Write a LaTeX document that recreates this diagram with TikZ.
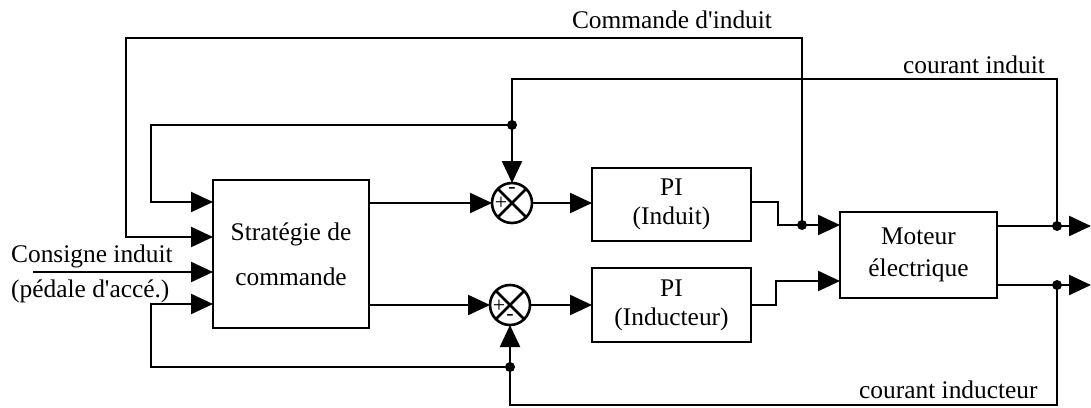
\documentclass[tikz,border=0pt]{standalone}
\usepackage{fontspec}
\setmainfont{Liberation Serif}
\usetikzlibrary{arrows.meta}
\newcommand\dfont{\fontsize{25.4}{29}\selectfont}
\begin{document}
\begin{tikzpicture}[x=1pt,y=-1pt,line width=2.3pt,
  blk/.style={draw,line width=2.4pt,inner sep=0pt,outer sep=0pt,align=center,font=\dfont},
  sumj/.style={draw,circle,line width=2.6pt,minimum size=40pt,inner sep=0pt,outer sep=0pt},
  arr/.style={-{Triangle[length=22pt,width=20pt]}},
  jdot/.style={circle,fill,inner sep=0pt,minimum size=10pt},
  lbl/.style={font=\dfont,inner sep=0pt},
  sgn/.style={font=\fontsize{22}{22}\selectfont,inner sep=0pt}]
\useasboundingbox (0,0) rectangle (1091,407);

% blocks
\node[blk,minimum width=156pt,minimum height=148pt] (strat) at (291,254) {Stratégie de\\[16pt]commande};
\node[blk,minimum width=159pt,minimum height=73pt] (pi1) at (671.5,204.5) {PI\\(Induit)};
\node[blk,minimum width=159pt,minimum height=74pt] (pi2) at (671.5,305) {PI\\(Inducteur)};
\node[blk,minimum width=157pt,minimum height=86pt] (mot) at (918.5,255) {Moteur\\[3pt]électrique};

% summing junctions
\node[sumj] (s1) at (512,203) {};
\node[sumj] (s2) at (510,305) {};
\draw[line width=2.6pt] (s1.north west) -- (s1.south east) (s1.north east) -- (s1.south west);
\draw[line width=2.6pt] (s2.north west) -- (s2.south east) (s2.north east) -- (s2.south west);
\node[sgn] (s1m) at (512,190) {-};
\node[sgn] (s1p) at (501,203) {+};
\node[sgn] (s2p) at (499,306) {+};
\node[sgn] (s2m) at (510,317) {-};

% coordinates
\coordinate (d1) at (802,225);
\coordinate (jn1) at (512,125);
\coordinate (jn2) at (510,367);
\coordinate (d3) at (1057,226);
\coordinate (d4) at (1057,285);
\coordinate (out1) at (1091,226);
\coordinate (out2) at (1091,285);
\coordinate (cin) at (33,272);
\coordinate (c1) at (126,38);
\coordinate (c2) at (151,202);
\coordinate (c3) at (151,304);
\coordinate (c4) at (512,79);
\coordinate (c5) at (510,405);
\coordinate (cc) at (126,237);
\coordinate (k1) at (778,202);
\coordinate (k2) at (776,305);
\coordinate (min2) at (776,281);

% commande d'induit loop
\draw[arr] (d1) |- (c1) -- (cc) -- (strat.west |- cc);
% courant induit
\draw (d3) |- (c4) -- (jn1);
\draw[arr] (jn1) -- (s1.north);
\draw[arr] (jn1) -| (c2) -- (strat.west |- c2);
% courant inducteur
\draw (d4) |- (c5) -- (jn2);
\draw[arr] (jn2) -- (s2.south);
\draw[arr] (jn2) -| (c3) -- (strat.west |- c3);
% consigne
\draw[arr] (cin) -- (strat.west |- cin);
% strategy outputs
\draw[arr] (strat.east |- s1) -- (s1.west);
\draw[arr] (strat.east |- s2) -- (s2.west);
\draw[arr] (s1.east) -- (pi1.west |- s1);
\draw[arr] (s2.east) -- (pi2.west |- s2);
% PI to motor
\draw[arr] (pi1.east |- k1) -- (k1) |- (mot.west |- d1);
\draw[arr] (pi2.east |- k2) -- (k2) -- (min2) -- (mot.west |- min2);
% motor outputs
\draw[arr] (mot.east |- d3) -- (out1);
\draw[arr] (mot.east |- d4) -- (out2);

% dots
\node[jdot] (dd1) at (d1) {};
\node[jdot] (dj1) at (jn1) {};
\node[jdot] (dj2) at (jn2) {};
\node[jdot] (dd3) at (d3) {};
\node[jdot] (dd4) at (d4) {};

% labels
\node[lbl,anchor=base] (tcmd) at (672,28) {Commande d\textquotesingle induit};
\node[lbl,anchor=base east] (tci) at (1046,73) {courant induit};
\node[lbl,anchor=base west] (tcf) at (858,398) {courant inducteur};
\node[lbl,anchor=base west] (tcons) at (10,262) {Consigne induit};
\node[lbl,anchor=base west] (tped) at (10,297) {(pédale d\textquotesingle accé.)};
\end{tikzpicture}
\end{document}
